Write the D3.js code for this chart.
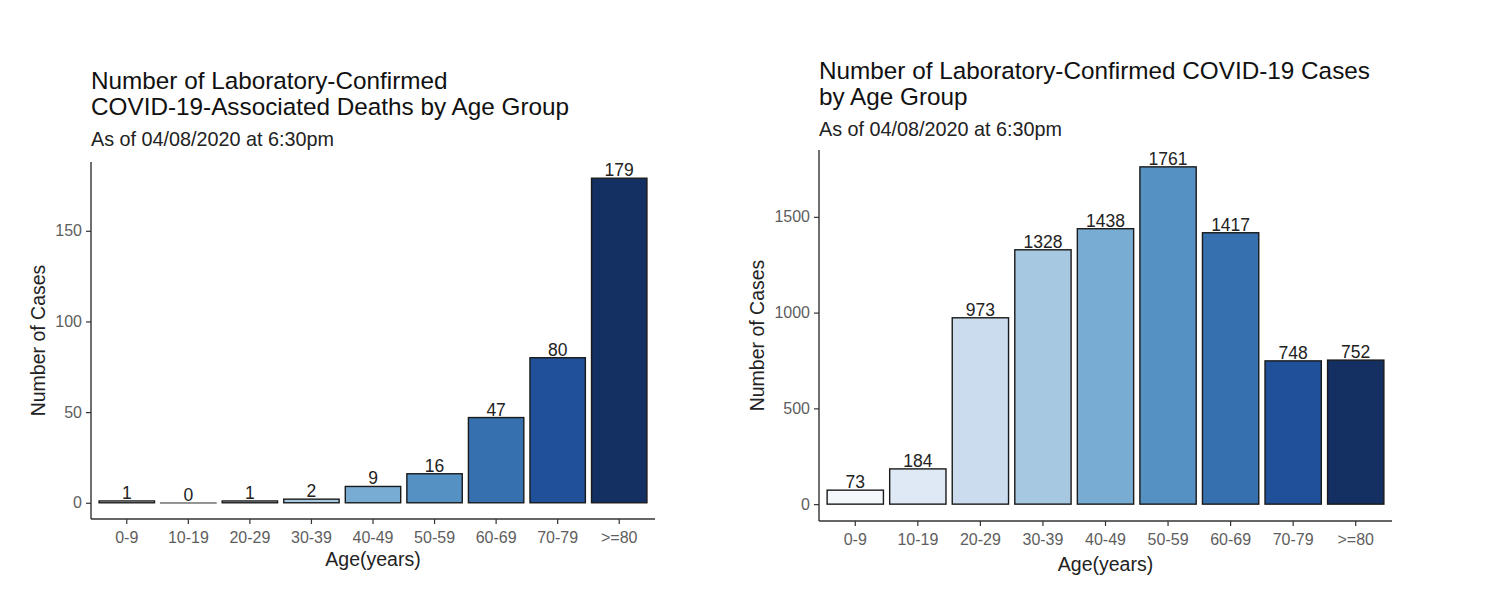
<!DOCTYPE html>
<html>
<head>
<meta charset="utf-8">
<script src="https://cdn.jsdelivr.net/npm/d3@7"></script>
<style>
  body { margin: 0; background: #fff; }
  svg text { font-family: "Liberation Sans", Arial, sans-serif; }
</style>
</head>
<body>
<div id="chart"></div>
<script>
const ageGroups = ["0-9", "10-19", "20-29", "30-39", "40-49", "50-59", "60-69", "70-79", ">=80"];
const deaths = [1, 0, 1, 2, 9, 16, 47, 80, 179];
const cases = [73, 184, 973, 1328, 1438, 1761, 1417, 748, 752];
const deathTicks = [0, 50, 100, 150];
const caseTicks = [0, 500, 1000, 1500];
const deathTitle = ["Number of Laboratory-Confirmed", "COVID-19-Associated Deaths by Age Group"];
const caseTitle = ["Number of Laboratory-Confirmed COVID-19 Cases", "by Age Group"];
const subtitle = "As of 04/08/2020 at 6:30pm";

const blues = ["#f4f8fc", "#dfe9f5", "#cadcee", "#a6c8e0", "#79acd3", "#5591c3", "#3670ae", "#20509a", "#142f61"];

const svg = d3.select("#chart").append("svg")
  .attr("width", 1500)
  .attr("height", 590);

function drawChart(opts) {
  const g = svg.append("g");
  const data = ageGroups.map((a, i) => ({age: a, value: opts.values[i], color: blues[i]}));
  const maxV = d3.max(opts.values);
  const pad = maxV * 0.05;

  const x = d3.scaleBand()
    .domain(ageGroups)
    .range([opts.left + 5, opts.right - 5])
    .paddingInner(0.1)
    .paddingOuter(0.05);

  const y = d3.scaleLinear()
    .domain([-pad, maxV + pad])
    .range([opts.bottom, opts.top]);

  // titles
  g.selectAll(".title")
    .data(opts.title)
    .enter().append("text")
    .attr("x", opts.left)
    .attr("y", (d, i) => opts.titleY + i * 25.5)
    .attr("font-size", 24.3)
    .attr("fill", "#111")
    .text(d => d);

  g.append("text")
    .attr("x", opts.left)
    .attr("y", opts.titleY + 57)
    .attr("font-size", 19.8)
    .attr("fill", "#222")
    .text(subtitle);

  // bars
  g.selectAll(".bar")
    .data(data)
    .enter().append("rect")
    .attr("x", d => x(d.age))
    .attr("width", x.bandwidth())
    .attr("y", d => y(d.value))
    .attr("height", d => Math.max(y(0) - y(d.value), 0.4))
    .attr("fill", d => d.color)
    .attr("stroke", d => d.value === 0 ? "#8a8a8a" : "#1a1a1a")
    .attr("stroke-width", 1.4);

  g.selectAll(".val")
    .data(data)
    .enter().append("text")
    .attr("x", d => x(d.age) + x.bandwidth() / 2)
    .attr("y", d => y(d.value) - 2)
    .attr("text-anchor", "middle")
    .attr("font-size", 17.5)
    .attr("fill", "#222")
    .text(d => d.value);

  // axes
  const yAxis = g.append("g")
    .attr("transform", "translate(" + opts.left + ",0)")
    .call(d3.axisLeft(y).tickValues(opts.ticks).tickFormat(d3.format("d"))
      .tickSize(5).tickPadding(4).tickSizeOuter(0));
  const xAxis = g.append("g")
    .attr("transform", "translate(0," + opts.bottom + ")")
    .call(d3.axisBottom(x).tickSize(5).tickPadding(8).tickSizeOuter(0));

  [xAxis, yAxis].forEach(ax => {
    ax.attr("font-size", 16).attr("font-family", "Liberation Sans, Arial, sans-serif");
    ax.select(".domain").attr("stroke", "#333").attr("stroke-width", 1.4);
    ax.selectAll(".tick line").attr("stroke", "#333").attr("stroke-width", 1.2);
    ax.selectAll(".tick text").attr("fill", "#5e5e5e");
  });
  // extend axis lines across the full panel
  xAxis.select(".domain").attr("d", "M" + opts.left + ",0H" + opts.right);
  yAxis.select(".domain").attr("d", "M0," + opts.top + "V" + opts.bottom);

  g.append("text")
    .attr("x", (opts.left + opts.right) / 2)
    .attr("y", opts.bottom + opts.xTitleGap)
    .attr("text-anchor", "middle")
    .attr("font-size", 19.5)
    .attr("fill", "#222")
    .text("Age(years)");

  g.append("text")
    .attr("transform", "translate(" + (opts.left - opts.yTitleGap) + "," + ((opts.top + opts.bottom) / 2) + ") rotate(-90)")
    .attr("text-anchor", "middle")
    .attr("font-size", 19.5)
    .attr("fill", "#222")
    .text("Number of Cases");
}

drawChart({
  values: deaths, ticks: deathTicks, title: deathTitle,
  left: 91, right: 655, top: 162, bottom: 519,
  titleY: 89, xTitleGap: 47, yTitleGap: 46
});

drawChart({
  values: cases, ticks: caseTicks, title: caseTitle,
  left: 819, right: 1392, top: 150, bottom: 521,
  titleY: 79, xTitleGap: 50, yTitleGap: 55
});
</script>
</body>
</html>
